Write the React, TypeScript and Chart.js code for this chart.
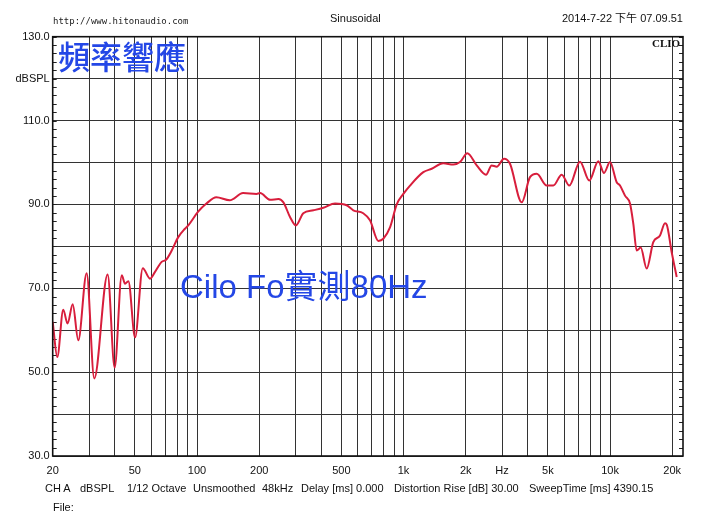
import React, { useEffect, useRef } from "react";
import { Chart, registerables } from "chart.js";

Chart.register(...registerables);

// Frequency response (Hz) and SPL (dB)
const freqs = [
  20, 21.05, 22.5, 23.6, 25.0, 26.6, 29.2, 31.8, 36.9, 39.9, 43.2, 44.8, 46.5, 50.1,
  54.6, 59.2, 62.6, 67.4, 70.8, 75.4, 81.1, 87.4, 90.7, 101, 111, 124, 144, 167, 194,
  202, 226, 248, 262, 282, 301, 327, 366, 409, 466, 530, 571, 638, 688, 755, 798, 860,
  927, 998, 1075, 1247, 1369, 1558, 1742, 1877, 2036, 2261, 2508, 2672, 2826, 3066,
  3278, 3734, 4096, 4416, 4936, 5312, 5834, 6350, 7154, 7936, 8772, 9350, 9994, 10770,
  11174, 11816, 12494, 12962, 13464, 14078, 15050, 16196, 17460, 18460, 18812, 19888,
  21028,
];
const spl = [
  62.0, 53.6, 64.9, 61.6, 66.2, 57.6, 73.6, 48.5, 73.3, 51.1, 73.1, 71.1, 71.7, 58.3,
  74.8, 72.3, 73.9, 76.3, 76.8, 79.0, 82.2, 84.2, 85.0, 88.2, 90.2, 91.7, 91.0, 92.7, 92.5,
  92.7, 91.1, 91.3, 90.5, 87.0, 85.0, 87.9, 88.6, 89.2, 90.2, 89.8, 88.6, 87.9, 86.2, 81.3,
  81.8, 84.5, 90.0, 92.5, 94.5, 97.7, 98.5, 99.8, 99.5, 100.1, 102.2, 99.3, 97.1, 99.3,
  99.0, 100.9, 99.7, 90.5, 96.5, 97.3, 94.5, 94.5, 97.1, 94.5, 100.2, 95.7, 100.3, 97.5,
  100.1, 95.3, 94.5, 92.1, 90.2, 85.4, 79.0, 79.7, 74.7, 81.0, 82.6, 85.5, 85.2, 78.6,
  72.7,
];

const xMin = 20;
const xMax = 22560;
const yMin = 30;
const yMax = 130;

const xGridValues = [
  20, 30, 40, 50, 60, 70, 80, 90, 100, 200, 300, 400, 500, 600, 700, 800, 900, 1000,
  2000, 3000, 4000, 5000, 6000, 7000, 8000, 9000, 10000, 20000,
];
const xTickLabels: Record<number, string> = {
  20: "20", 50: "50", 100: "100", 200: "200", 500: "500", 1000: "1k", 2000: "2k",
  3000: "Hz", 5000: "5k", 10000: "10k", 20000: "20k",
};
const yTickLabels: Record<number, string> = {
  130: "130.0", 120: "dBSPL", 110: "110.0", 90: "90.0", 70: "70.0", 50: "50.0", 30: "30.0",
};

const headerUrl = "http://www.hitonaudio.com";
const headerMode = "Sinusoidal";
const headerDate = "2014-7-22 下午 07.09.51";
const brand = "CLIO";
const titleText = "頻率響應";
const noteText = "Cilo Fo實測80Hz";
const footerItems: [string, number][] = [
  ["CH A", 45],
  ["dBSPL", 80],
  ["1/12 Octave", 127],
  ["Unsmoothed", 193],
  ["48kHz", 262],
  ["Delay [ms] 0.000", 301],
  ["Distortion Rise [dB] 30.00", 394],
  ["SweepTime [ms] 4390.15", 529],
];
const fileLabel = "File:";

const SANS = '"Liberation Sans", Arial, "Noto Sans CJK TC", sans-serif';

const framePlugin = {
  id: "frameAndTicks",
  beforeDatasetsDraw(chart: any) {
    const { ctx, chartArea, scales } = chart;
    const y = scales.y;
    ctx.save();
    ctx.strokeStyle = "#222";
    ctx.lineWidth = 1;
    for (let v = yMin; v <= yMax; v += 2) {
      const py = Math.round(y.getPixelForValue(v)) + 0.5;
      ctx.beginPath();
      ctx.moveTo(chartArea.left, py);
      ctx.lineTo(chartArea.left + 4, py);
      ctx.moveTo(chartArea.right - 4, py);
      ctx.lineTo(chartArea.right, py);
      ctx.stroke();
    }
    ctx.restore();
  },
  afterDraw(chart: any) {
    const { ctx, chartArea } = chart;
    ctx.save();
    ctx.strokeStyle = "#111";
    ctx.lineWidth = 1.6;
    ctx.strokeRect(
      chartArea.left,
      chartArea.top,
      chartArea.right - chartArea.left,
      chartArea.bottom - chartArea.top
    );
    ctx.restore();
  },
};

export default function App() {
  const canvasRef = useRef<HTMLCanvasElement | null>(null);

  useEffect(() => {
    if (!canvasRef.current) return;
    const points = freqs.map((f, i) => ({ x: f, y: spl[i] }));
    const chart = new Chart(canvasRef.current, {
      type: "line",
      data: {
        datasets: [
          {
            data: points,
            borderColor: "#d81e3c",
            borderWidth: 2,
            pointRadius: 0,
            cubicInterpolationMode: "monotone",
            fill: false,
          },
        ],
      },
      options: {
        animation: false,
        responsive: false,
        devicePixelRatio: 1,
        layout: { padding: { left: 0, top: 36.7, right: 27, bottom: 0 } },
        plugins: {
          legend: { display: false },
          tooltip: { enabled: false },
          title: { display: false },
        },
        scales: {
          x: {
            type: "logarithmic",
            min: xMin,
            max: xMax,
            afterBuildTicks: (scale: any) => {
              scale.ticks = xGridValues.map((v) => ({ value: v }));
            },
            afterFit: (scale: any) => {
              scale.height = 76;
            },
            grid: { color: "#333", lineWidth: 1, drawTicks: false },
            border: { display: false },
            ticks: {
              autoSkip: false,
              maxRotation: 0,
              padding: 8,
              color: "#111",
              font: { family: SANS, size: 11 },
              callback: (v: any) => xTickLabels[Number(v)] ?? "",
            },
          },
          y: {
            type: "linear",
            min: yMin,
            max: yMax,
            afterFit: (scale: any) => {
              scale.width = 52.7;
            },
            grid: { color: "#333", lineWidth: 1, drawTicks: false },
            border: { display: false },
            ticks: {
              stepSize: 10,
              autoSkip: false,
              padding: 3,
              color: "#111",
              font: { family: SANS, size: 11 },
              callback: (v: any) => yTickLabels[Number(v)] ?? "",
            },
          },
        },
      },
      plugins: [framePlugin],
    } as any);
    return () => chart.destroy();
  }, []);

  const txt = (extra: React.CSSProperties): React.CSSProperties => ({
    position: "absolute",
    whiteSpace: "nowrap",
    lineHeight: 1,
    color: "#111",
    fontFamily: SANS,
    fontSize: 11,
    ...extra,
  });

  return (
    <div
      style={{
        position: "fixed",
        left: 0,
        top: 0,
        width: 710,
        height: 532,
        background: "#fff",
        overflow: "hidden",
      }}
    >
      <canvas
        ref={canvasRef}
        width={710}
        height={532}
        style={{ position: "absolute", left: 0, top: 0, width: 710, height: 532 }}
      />
      <div style={txt({ left: 53, top: 16.5, fontSize: 9, fontFamily: '"DejaVu Sans Mono", monospace', color: "#222" })}>
        {headerUrl}
      </div>
      <div style={txt({ left: 330, top: 12.5 })}>{headerMode}</div>
      <div style={txt({ right: 27, top: 12.5 })}>{headerDate}</div>
      <div style={txt({ left: 652, top: 37.5, fontFamily: '"Liberation Serif", serif', fontWeight: 700 })}>
        {brand}
      </div>
      <div
        style={txt({
          left: 58,
          top: 39,
          fontSize: 32,
          fontWeight: 500,
          fontFamily: '"Noto Sans CJK TC", sans-serif',
          color: "#2447e6",
        })}
      >
        {titleText}
      </div>
      <div style={txt({ left: 180, top: 270, fontSize: 33, color: "#2447e6" })}>{noteText}</div>
      {footerItems.map(([t, x]) => (
        <div key={t} style={txt({ left: x, top: 482.5 })}>
          {t}
        </div>
      ))}
      <div style={txt({ left: 53, top: 501.5 })}>{fileLabel}</div>
    </div>
  );
}
